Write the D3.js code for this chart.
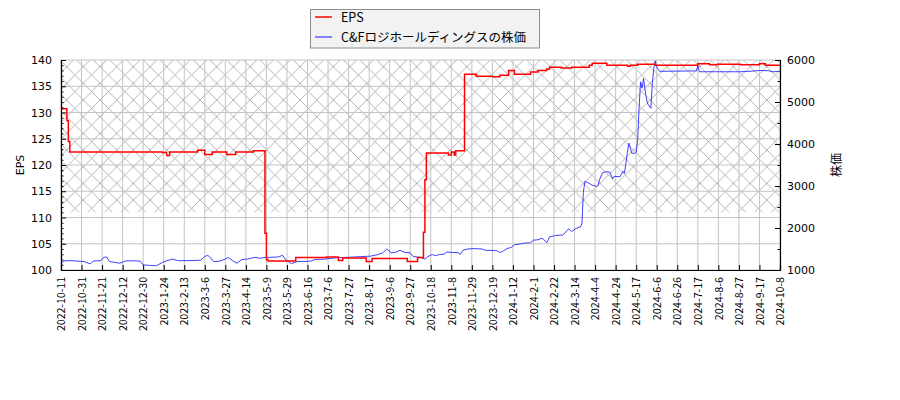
<!DOCTYPE html>
<html><head><meta charset="utf-8">
<script src="https://cdn.jsdelivr.net/npm/d3@7"></script>
<style>body{margin:0;background:#fff;} svg{display:block;}</style>
</head><body>
<svg id="chart" width="900" height="400"></svg>
<script>
// ---- data (x = trading-day index from 2022-10-11) ----
const tickLabels = ["2022-10-11","2022-10-31","2022-11-21","2022-12-12","2022-12-30","2023-1-24","2023-2-13","2023-3-6","2023-3-27","2023-4-14","2023-5-9","2023-5-29","2023-6-16","2023-7-6","2023-7-27","2023-8-17","2023-9-6","2023-9-27","2023-10-18","2023-11-8","2023-11-29","2023-12-19","2024-1-12","2024-2-1","2024-2-22","2024-3-14","2024-4-4","2024-4-24","2024-5-17","2024-6-6","2024-6-26","2024-7-17","2024-8-6","2024-8-27","2024-9-17","2024-10-8"];
const tickStep = 14;

const epsIdx = [0,4,5,6,69,72,74,93,98,103,113,119,131,139,140,141,160,181,189,192,208,212,236,243,247,248,249,264,266,268,269,275,283,294,299,305,309,320,325,331,333,341,348,360,362,372,386,388,393,405,434,442,447,463,476,480,490];
const epsVal = [130.7,128.5,124.5,122.5,122.4,121.8,122.5,122.8,122.0,122.5,122.0,122.5,122.7,107.0,102.0,101.7,102.4,102.5,101.8,102.3,101.6,102.2,101.6,102.4,107.2,117.2,122.3,121.9,122.5,121.9,122.7,137.3,136.9,136.8,137.1,138.0,137.3,137.7,138.0,138.3,138.6,138.5,138.6,139.0,139.4,139.0,138.8,139.0,139.2,139.0,139.3,139.1,139.2,139.1,139.3,139.0,139.0];

const priceIdx = [0,2,6,12,16,20,22,27,29,31,33,37,40,44,49,54,56,61,65,69,72,76,80,88,95,98,100,102,104,108,112,114,117,120,123,127,132,136,139,141,148,151,153,157,161,170,173,180,187,194,200,205,211,215,219,222,225,228,231,234,238,240,245,248,250,253,255,258,261,263,266,271,272,274,277,282,287,289,297,299,301,304,307,309,313,316,320,322,325,328,331,333,337,340,342,346,348,351,354,355,356,357,359,362,365,366,367,369,371,374,376,377,381,383,384,386,387,389,391,392,393,394,395,396,397,398,399,400,402,403,404,405,406,408,420,433,434,435,449,463,471,476,482,485,490];
const priceVal = [1160,1215,1225,1210,1200,1145,1215,1220,1300,1310,1200,1180,1160,1215,1220,1210,1120,1110,1100,1180,1220,1260,1220,1225,1230,1320,1350,1290,1200,1210,1260,1300,1220,1160,1250,1260,1300,1280,1300,1300,1310,1350,1250,1150,1200,1210,1250,1260,1290,1300,1310,1320,1330,1360,1400,1500,1410,1420,1470,1420,1410,1320,1300,1260,1320,1370,1340,1370,1375,1430,1420,1410,1370,1470,1500,1510,1500,1470,1460,1420,1440,1510,1540,1600,1620,1640,1650,1710,1720,1760,1650,1790,1820,1830,1830,1980,1920,1990,2030,2100,2850,3110,3080,3020,2990,3010,3150,3310,3340,3330,3170,3230,3220,3350,3300,3800,4020,3780,3780,3800,4100,4900,5480,5330,5560,5290,5070,4950,4850,5440,5800,5980,5830,5730,5735,5740,5870,5720,5720,5720,5735,5750,5745,5720,5730];

const leftTicks = [100,105,110,115,120,125,130,135,140];
const rightTicks = [1000,2000,3000,4000,5000,6000];
const hatchTop = 140, hatchBottom = 111;

// ---- layout ----
const L = 61, R = 780, T = 60, B = 270;
const svg = d3.select("#chart");
const x = d3.scaleLinear().domain([0, (tickLabels.length-1)*tickStep]).range([L, R]);
const yL = d3.scaleLinear().domain([100,140]).range([B, T]);
const yR = d3.scaleLinear().domain([1000,6000]).range([B, T]);

// hatch pattern
const defs = svg.append("defs");
const pat = defs.append("pattern").attr("id","hx").attr("patternUnits","userSpaceOnUse")
  .attr("width",16.67).attr("height",16.67);
pat.append("path").attr("d","M0,0L16.67,16.67M16.67,0L0,16.67M-2,2L2,-2M14.67,18.67L18.67,14.67")
  .attr("stroke","#9a9a9a").attr("stroke-width",0.75).attr("fill","none");

svg.append("rect").attr("x",L).attr("width",R-L)
  .attr("y",yL(hatchTop)).attr("height",yL(hatchBottom)-yL(hatchTop))
  .attr("fill","url(#hx)");

// grid
const tickIdx = tickLabels.map((d,i)=>i*tickStep);
svg.append("g").selectAll("line").data(tickIdx).join("line")
  .attr("x1",d=>x(d)).attr("x2",d=>x(d)).attr("y1",T).attr("y2",B)
  .attr("stroke","#c4c4c4").attr("stroke-width",1);
svg.append("g").selectAll("line").data(leftTicks).join("line")
  .attr("x1",L).attr("x2",R).attr("y1",d=>yL(d)).attr("y2",d=>yL(d))
  .attr("stroke","#c4c4c4").attr("stroke-width",1);

// lines
const priceData = priceIdx.map((d,i)=>[d, priceVal[i]]);
const epsData = epsIdx.map((d,i)=>[d, epsVal[i]]);
svg.append("path").datum(priceData)
  .attr("d", d3.line().x(d=>x(d[0])).y(d=>yR(d[1])))
  .attr("fill","none").attr("stroke","#2020ff").attr("stroke-opacity",0.85).attr("stroke-width",1);
svg.append("path").datum(epsData)
  .attr("d", d3.line().curve(d3.curveStepAfter).x(d=>x(d[0])).y(d=>yL(d[1])))
  .attr("fill","none").attr("stroke","#ff0000").attr("stroke-width",1.5);

// axes (ticks inward)
const font = "DejaVu Sans, sans-serif";
const gL = svg.append("g").attr("transform",`translate(${L},0)`)
  .call(d3.axisLeft(yL).tickValues(leftTicks).tickSize(-5).tickPadding(9).tickFormat(d3.format("d")));
const gLm = svg.append("g").attr("transform",`translate(${L},0)`)
  .call(d3.axisLeft(yL).tickValues(d3.range(100,141,1).filter(v=>v%5)).tickSize(-2.5).tickFormat(""));
const gR = svg.append("g").attr("transform",`translate(${R},0)`)
  .call(d3.axisRight(yR).tickValues(rightTicks).tickSize(-5).tickPadding(7).tickFormat(d3.format("d")));
const gRm = svg.append("g").attr("transform",`translate(${R},0)`)
  .call(d3.axisRight(yR).tickValues([1500,2500,3500,4500,5500]).tickSize(-2.5).tickFormat(""));
const gB = svg.append("g").attr("transform",`translate(0,${B})`)
  .call(d3.axisBottom(x).tickValues(tickIdx).tickSize(-5).tickFormat((d,i)=>tickLabels[i]));
[gL,gLm,gR,gRm,gB].forEach(g=>{
  g.select(".domain").attr("stroke","#000").attr("stroke-width",1.2);
  g.selectAll(".tick line").attr("stroke","#000");
  g.selectAll("text").attr("font-family",font).attr("font-size","11px").attr("fill","#000");
});
gLm.select(".domain").remove(); gRm.select(".domain").remove();
gB.selectAll(".tick text")
  .attr("font-family","'Noto Sans CJK JP', sans-serif").attr("font-size","10.5px")
  .attr("transform","rotate(-90)").attr("text-anchor","end")
  .attr("x",-7).attr("y",0).attr("dy","0.35em")
  .attr("textLength",function(){return this.textContent.length*5.4;})
  .attr("lengthAdjust","spacingAndGlyphs");

// axis titles
svg.append("text").attr("transform","translate(24,165) rotate(-90)").attr("text-anchor","middle")
  .attr("font-family",font).attr("font-size","11px").text("EPS");
svg.append("text").attr("transform","translate(841,165) rotate(-90)").attr("text-anchor","middle")
  .attr("font-family","'Noto Sans CJK JP', sans-serif").attr("font-size","12px").text("株価");

// legend
const lg = svg.append("g");
lg.append("rect").attr("x",310.5).attr("y",9.5).attr("width",229).attr("height",38.5)
  .attr("fill","#f2f2f2").attr("stroke","#8c8c8c").attr("stroke-width",1);
const legendItems = [{name:"EPS", color:"#ff0000", op:1, w:1.5},{name:"C&Fロジホールディングスの株価", color:"#2020ff", op:0.7, w:1.5}];
legendItems.forEach((it,i)=>{
  const yy = 17 + i*20;
  lg.append("line").attr("x1",315).attr("x2",332).attr("y1",yy).attr("y2",yy)
    .attr("stroke",it.color).attr("stroke-opacity",it.op).attr("stroke-width",it.w);
  lg.append("text").attr("x",341).attr("y",yy).attr("dy","0.38em")
    .attr("font-family","'Noto Sans CJK JP', sans-serif").attr("font-size","12.5px").attr("fill","#000").text(it.name);
});
</script>
</body></html>
